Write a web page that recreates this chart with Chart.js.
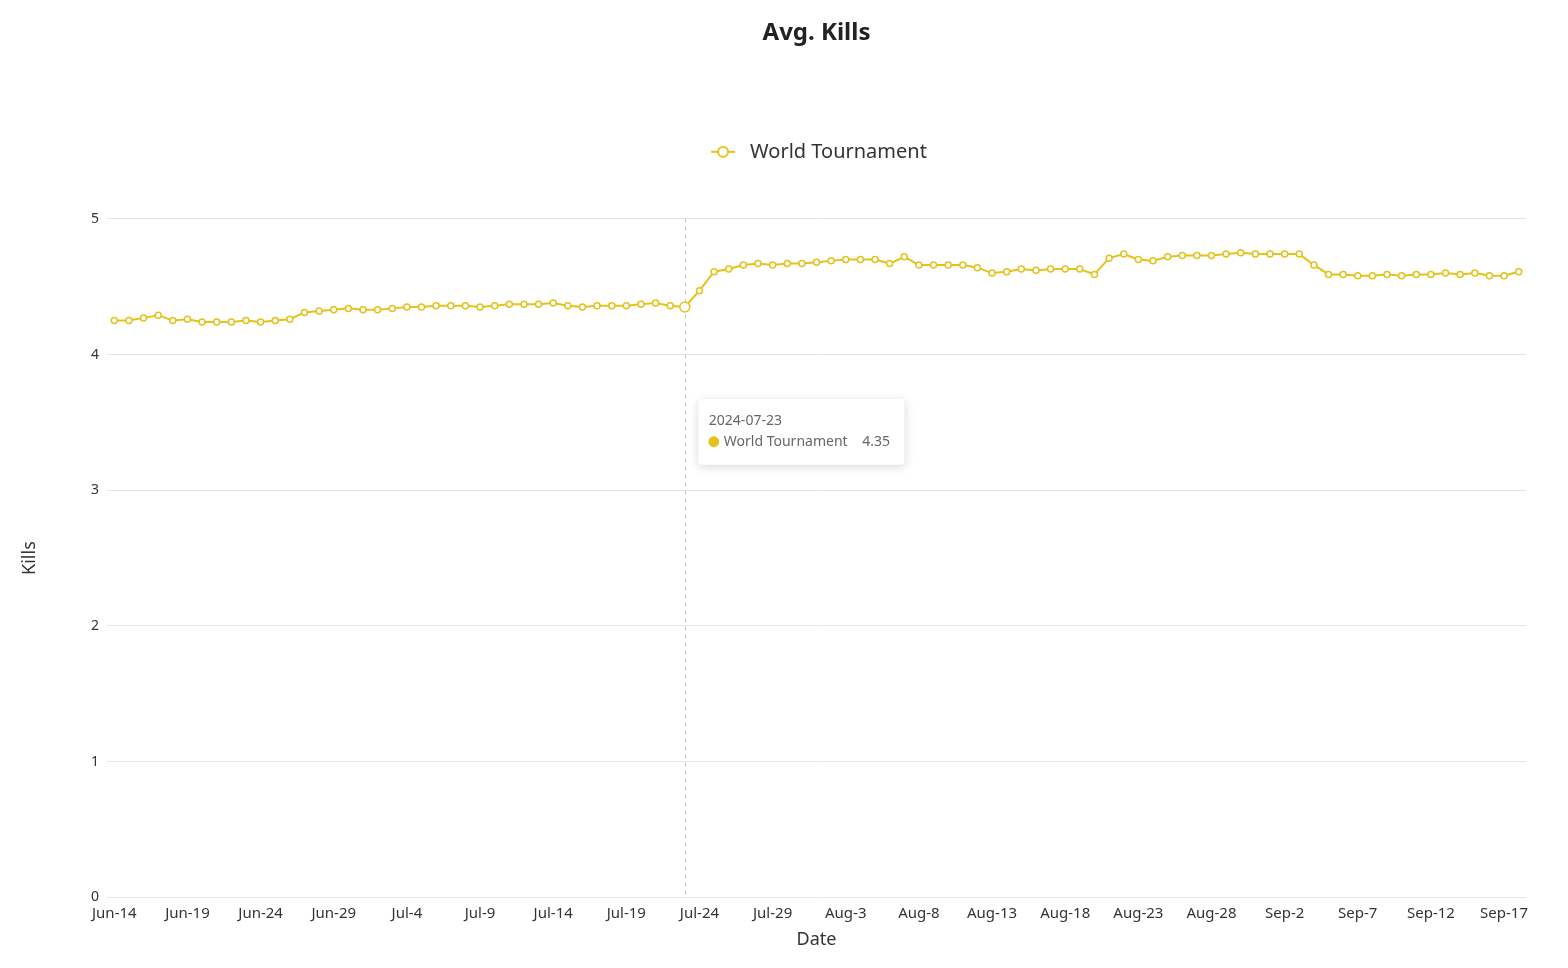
<!DOCTYPE html>
<html>
<head>
<meta charset="utf-8">
<script src="https://cdn.jsdelivr.net/npm/chart.js@4.4.1/dist/chart.umd.min.js"></script>
<style>
  body { margin: 0; background: #fff; }
  #wrap { width: 1568px; height: 968px; }
</style>
</head>
<body>
<div id="wrap"><canvas id="kills"></canvas></div>
<script>
// dates shown on the x axis (one point per day)
const dates = [
  '2024-06-14','2024-06-15','2024-06-16','2024-06-17','2024-06-18','2024-06-19','2024-06-20','2024-06-21','2024-06-22','2024-06-23',
  '2024-06-24','2024-06-25','2024-06-26','2024-06-27','2024-06-28','2024-06-29','2024-06-30',
  '2024-07-01','2024-07-02','2024-07-03','2024-07-04','2024-07-05','2024-07-06','2024-07-07','2024-07-08','2024-07-09','2024-07-10',
  '2024-07-11','2024-07-12','2024-07-13','2024-07-14','2024-07-15','2024-07-16','2024-07-17','2024-07-18','2024-07-19','2024-07-20',
  '2024-07-21','2024-07-22','2024-07-23','2024-07-24','2024-07-25','2024-07-26','2024-07-27','2024-07-28','2024-07-29','2024-07-30','2024-07-31',
  '2024-08-01','2024-08-02','2024-08-03','2024-08-04','2024-08-05','2024-08-06','2024-08-07','2024-08-08','2024-08-09','2024-08-10',
  '2024-08-11','2024-08-12','2024-08-13','2024-08-14','2024-08-15','2024-08-16','2024-08-17','2024-08-18','2024-08-19','2024-08-20',
  '2024-08-21','2024-08-22','2024-08-23','2024-08-24','2024-08-25','2024-08-26','2024-08-27','2024-08-28','2024-08-29','2024-08-30','2024-08-31',
  '2024-09-01','2024-09-02','2024-09-03','2024-09-04','2024-09-05','2024-09-06','2024-09-07','2024-09-08','2024-09-09','2024-09-10',
  '2024-09-11','2024-09-12','2024-09-13','2024-09-14','2024-09-15','2024-09-16','2024-09-17','2024-09-18'
]

// avg kills per day, month by month
const junKills = [4.25, 4.25, 4.27, 4.29, 4.25, 4.26, 4.24, 4.24, 4.24, 4.25, 4.24, 4.25, 4.26, 4.31, 4.32, 4.33, 4.34]
const julKills = [4.33, 4.33, 4.34, 4.35, 4.35, 4.36, 4.36, 4.36, 4.35, 4.36, 4.37, 4.37, 4.37, 4.38, 4.36, 4.35,
                  4.36, 4.36, 4.36, 4.37, 4.38, 4.36, 4.35, 4.47, 4.61, 4.63, 4.66, 4.67, 4.66, 4.67, 4.67]
const augKills = [4.68, 4.69, 4.70, 4.70, 4.70, 4.67, 4.72, 4.66, 4.66, 4.66, 4.66, 4.64, 4.60, 4.61, 4.63, 4.62,
                  4.63, 4.63, 4.63, 4.59, 4.71, 4.74, 4.70, 4.69, 4.72, 4.73, 4.73, 4.73, 4.74, 4.75, 4.74]
const sepKills = [4.74, 4.74, 4.74, 4.66, 4.59, 4.59, 4.58, 4.58, 4.59, 4.58, 4.59, 4.59, 4.60, 4.59, 4.60, 4.58, 4.58, 4.61]

const monthNames = ['Jan','Feb','Mar','Apr','May','Jun','Jul','Aug','Sep','Oct','Nov','Dec']
const yTicks = [0, 1, 2, 3, 4, 5]
const seriesName = 'World Tournament'
const hoverDate = '2024-07-23'

const kills = [...junKills, ...julKills, ...augKills, ...sepKills]
const gold = '#e4c21c'
const font = "'Noto Sans', 'Open Sans', sans-serif"

// legend icon: little line with a hollow circle
const icon = document.createElement('canvas')
icon.width = 34
icon.height = 14
const ic = icon.getContext('2d')
ic.strokeStyle = gold
ic.lineWidth = 2
ic.beginPath(); ic.moveTo(5, 7); ic.lineTo(29, 7); ic.stroke()
ic.fillStyle = '#fff'
ic.beginPath(); ic.arc(17, 7, 5, 0, Math.PI * 2); ic.fill(); ic.stroke()

Chart.Tooltip.positioners.besidePoint = function (items) {
  if (!items.length) return false
  const yScale = this.chart.scales.y
  return { x: items[0].element.x + 14, y: yScale.getPixelForValue(3.43) }
}

// extra room between legend and plot
const legendGap = {
  id: 'legendGap',
  beforeInit(chart) {
    const fit = chart.legend.fit
    chart.legend.fit = function () {
      fit.call(this)
      this.height += 47
    }
  }
}

// dashed pointer line + tooltip shadow
const pointerLine = {
  id: 'pointerLine',
  beforeDatasetsDraw(chart) {
    const act = chart.tooltip.getActiveElements()
    if (!act.length) return
    const ctx = chart.ctx
    const x = act[0].element.x
    ctx.save()
    ctx.strokeStyle = '#c8c8c8'
    ctx.lineWidth = 1
    ctx.setLineDash([4, 4])
    ctx.beginPath()
    ctx.moveTo(Math.round(x) + 0.5, chart.chartArea.top)
    ctx.lineTo(Math.round(x) + 0.5, chart.chartArea.bottom)
    ctx.stroke()
    ctx.restore()
  },
  beforeTooltipDraw(chart, args) {
    const t = args.tooltip
    const ctx = chart.ctx
    ctx.save()
    ctx.shadowColor = 'rgba(0,0,0,0.18)'
    ctx.shadowBlur = 10
    ctx.shadowOffsetY = 2
    ctx.fillStyle = '#fff'
    ctx.fillRect(t.x, t.y, t.width, t.height)
    ctx.restore()
  }
}

const chart = new Chart(document.getElementById('kills'), {
  type: 'line',
  data: {
    labels: dates,
    datasets: [{
      label: seriesName,
      data: kills,
      borderColor: gold,
      backgroundColor: '#fff',
      borderWidth: 2,
      pointRadius: 3,
      pointBorderWidth: 1.5,
      pointBackgroundColor: '#fff',
      pointBorderColor: gold,
      pointHoverRadius: 5,
      pointHoverBorderWidth: 1.5,
      pointHoverBackgroundColor: '#fff',
      pointHoverBorderColor: gold,
      tension: 0
    }]
  },
  options: {
    responsive: true,
    maintainAspectRatio: false,
    animation: false,
    events: [],
    layout: { padding: { left: 10, right: 42, top: 0, bottom: 17 } },
    plugins: {
      title: {
        display: true,
        fullSize: false,
        text: 'Avg. Kills',
        color: '#222',
        font: { family: font, size: 24, weight: 'bold' },
        padding: { top: 19, bottom: 84 }
      },
      legend: {
        display: true,
        fullSize: false,
        labels: {
          usePointStyle: true,
          pointStyle: icon,
          pointStyleWidth: 34,
          color: '#333',
          font: { family: font, size: 20 },
          padding: 10
        }
      },
      tooltip: {
        enabled: true,
        position: 'besidePoint',
        xAlign: 'left',
        yAlign: 'center',
        caretSize: 0,
        caretPadding: 0,
        backgroundColor: '#fff',
        borderColor: '#fff',
        borderWidth: 1,
        cornerRadius: 4,
        titleColor: '#666',
        bodyColor: '#666',
        titleFont: { family: font, size: 14, weight: 'normal' },
        bodyFont: { family: font, size: 14 },
        titleMarginBottom: 4,
        padding: { top: 13, bottom: 14, left: 10, right: 14 },
        usePointStyle: true,
        boxWidth: 10,
        boxHeight: 10,
        boxPadding: 3,
        callbacks: {
          title: items => items[0].label,
          label: c => c.dataset.label + '    ' + c.formattedValue,
          labelColor: () => ({ borderColor: gold, backgroundColor: gold }),
          labelPointStyle: () => ({ pointStyle: 'circle', rotation: 0 })
        }
      }
    },
    scales: {
      x: {
        type: 'category',
        offset: true,
        grid: { display: false, drawTicks: false },
        border: { display: false },
        ticks: {
          autoSkip: false,
          maxRotation: 0,
          color: '#333',
          font: { family: font, size: 15 },
          padding: 7,
          callback: function (val, i) {
            if (i % 5 !== 0) return null
            const d = dates[i]
            return monthNames[+d.slice(5, 7) - 1] + '-' + (+d.slice(8, 10))
          }
        },
        title: {
          display: true,
          text: 'Date',
          color: '#333',
          font: { family: font, size: 18 },
          padding: { top: 0, bottom: 0 }
        }
      },
      y: {
        min: yTicks[0],
        max: yTicks[yTicks.length - 1],
        afterFit: s => { s.width = 97 },
        afterBuildTicks: s => { s.ticks = yTicks.map(v => ({ value: v })) },
        grid: { color: '#e0e6f1', drawTicks: false },
        border: { display: false },
        ticks: {
          color: '#333',
          font: { family: font, size: 14 },
          padding: 8
        },
        title: {
          display: true,
          text: 'Kills',
          color: '#333',
          font: { family: font, size: 18 },
          padding: { top: 9, bottom: 0 }
        }
      }
    }
  },
  plugins: [legendGap, pointerLine]
})

const hi = dates.indexOf(hoverDate)
const pt = chart.getDatasetMeta(0).data[hi]
chart.setActiveElements([{ datasetIndex: 0, index: hi }])
chart.tooltip.setActiveElements([{ datasetIndex: 0, index: hi }], { x: pt.x, y: pt.y })
chart.update()
</script>
</body>
</html>
